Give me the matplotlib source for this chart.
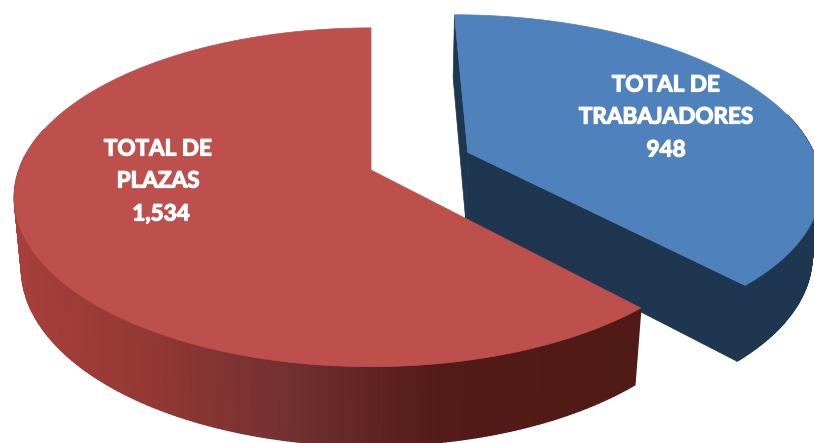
#!/usr/bin/env python
"""
Exploded 3D pie: total de trabajadores vs total de plazas
Drawn by hand because matplotlib has no perspective pie
"""

import numpy as np
import matplotlib.pyplot as plt
import matplotlib.patheffects as pe
from matplotlib.colors import to_rgb, to_hex
from matplotlib.patches import Polygon

plt.rcParams['font.family'] = ['Lato', 'DejaVu Sans']

# Chart data
labels = ["TOTAL DE\nTRABAJADORES", "TOTAL DE\nPLAZAS"]
values = [948, 1534]

# Projection settings (pixels of the 814x443 picture)
CX, CY = 371, 170
A, B = 352, 165
PERSP = 0.161
DEPTH = 72
DEPTH_PERSP = 0.02
EXPLODE = 0.30


def project(u, v, z=0.0):
    """Map a point of the unit disc (z=0 top, z=1 bottom) to picture pixels"""
    w = 1 + PERSP * v + DEPTH_PERSP * z
    return CX + A * u / w, CY + (-B * v + DEPTH * z) / w


def side_color(x, stops_x, stops_c):
    rgb = np.array([to_rgb(c) for c in stops_c])
    return to_hex([np.interp(x, stops_x, rgb[:, i]) for i in range(3)])


def draw_slice(ax, start, end, shift, top_color, stops_x, stops_c, cut_color=None):
    """Draw one slice, angles in degrees clockwise from 12 o'clock"""
    mid = np.radians((start + end) / 2)
    du, dv = shift * np.sin(mid), shift * np.cos(mid)
    theta = np.radians(np.linspace(start, end, 300))
    u = np.sin(theta) + du
    v = np.cos(theta) + dv

    # Cut faces that look towards the viewer
    if cut_color is not None:
        for a in [start, end]:
            ru = np.sin(np.radians(a)) + du
            rv = np.cos(np.radians(a)) + dv
            pts = [project(du, dv), project(ru, rv),
                   project(ru, rv, 1), project(du, dv, 1)]
            ax.add_patch(Polygon(pts, closed=True, fc=cut_color, ec=cut_color, lw=0.5))

    # Outer wall, small strips so that the shade can change along x
    x0, y0 = project(u, v)
    x1, y1 = project(u, v, 1)
    for i in range(len(theta) - 1):
        if v[i] - dv > 0.25:
            continue  # back of the wall stays hidden under the top
        pts = [(x0[i], y0[i]), (x0[i + 1], y0[i + 1]), (x1[i + 1], y1[i + 1]), (x1[i], y1[i])]
        c = side_color(x0[i], stops_x, stops_c)
        ax.add_patch(Polygon(pts, closed=True, fc=c, ec=c, lw=1.0))

    # Top face
    px, py = project(du, dv)
    top = [(px, py)] + list(zip(x0, y0))
    ax.add_patch(Polygon(top, closed=True, fc=top_color, ec=top_color, lw=0.5))


fig = plt.figure(figsize=(8.14, 4.43), dpi=100)
ax = fig.add_axes([0, 0, 1, 1])
ax.set_xlim(0, 814)
ax.set_ylim(443, 0)
ax.axis('off')

blue_end = 360 * values[0] / sum(values)

# Blue slice goes first, the red one overlaps it at the front
draw_slice(ax, 0, blue_end, EXPLODE, "#4F81BD",
           [0, 814], ["#1F3650", "#1F3650"], cut_color="#1F3650")
draw_slice(ax, blue_end, 360, 0.0, "#BD4F4C",
           [12, 150, 300, 440, 640],
           ["#A83F3C", "#933834", "#703030", "#541B18", "#501A17"])

# Labels, one line at a time (thin stroke to get Calibri bold weight)
text_style = dict(color="white", fontweight='bold', fontsize=16.2, ha='center', va='center',
                  path_effects=[pe.withStroke(linewidth=0.9, foreground="white")])
ax.text(666, 85, labels[0].split("\n")[0], **text_style)
ax.text(666, 117, labels[0].split("\n")[1], **text_style)
ax.text(666, 150, f"{values[0]:,}", **text_style)
ax.text(158, 149, labels[1].split("\n")[0], **text_style)
ax.text(158, 181, labels[1].split("\n")[1], **text_style)
ax.text(161, 214, f"{values[1]:,}", **text_style)

plt.savefig("out.png", dpi=100, facecolor="white")
